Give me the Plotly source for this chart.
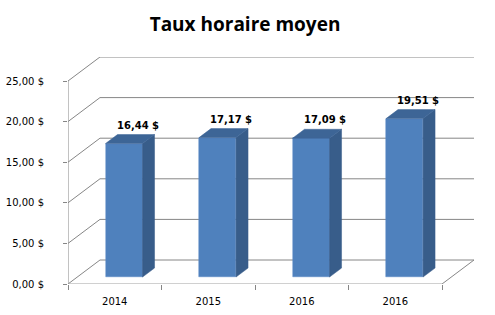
import plotly.graph_objects as go

# ---- data ----
categories = ["2014", "2015", "2016", "2016"]
values = [16.44, 17.17, 17.09, 19.51]
y_ticks = [0, 5, 10, 15, 20, 25]
title_text = "Taux horaire moyen"

# ---- pseudo-3D geometry (in axis units) ----
DX = 0.342   # depth shift along x (category units)
DY = 2.956   # depth shift along y (value units)
F0, F1 = 0.29, 0.665   # bar front/back depth fractions
BW = 0.396   # bar width
YMAX = 25

FRONT = "#4F81BD"
SIDE = "#385D8A"
TOP = "#3D6596"
GRID = "#868686"

def fmt(v):
    return f"{v:.2f}".replace(".", ",") + " $"

fig = go.Figure()
shapes = []

# walls / gridlines
for v in y_ticks:
    shapes.append(dict(type="line", x0=0, y0=v, x1=DX, y1=v + DY,
                       line=dict(color=GRID, width=1), layer="below"))
    shapes.append(dict(type="line", x0=DX, y0=v + DY, x1=len(values) + DX, y1=v + DY,
                       line=dict(color=GRID, width=1), layer="below"))
# floor right edge
shapes.append(dict(type="line", x0=len(values), y0=0, x1=len(values) + DX, y1=DY,
                   line=dict(color=GRID, width=1), layer="below"))
# front axes
shapes.append(dict(type="line", x0=0, y0=0, x1=0, y1=YMAX,
                   line=dict(color=GRID, width=1), layer="below"))
shapes.append(dict(type="line", x0=0, y0=0, x1=len(values), y1=0,
                   line=dict(color="#A0A0A0", width=1), layer="below"))

dd = F1 - F0
ddx, ddy = dd * DX, dd * DY
xs_front = [i + 0.5 + F0 * DX for i in range(len(values))]
base0 = F0 * DY

# front faces
fig.add_trace(go.Bar(x=xs_front, y=values, base=[base0] * len(values), width=BW,
                     marker=dict(color=FRONT, line=dict(color="#5A8AC6", width=0.5)),
                     hoverinfo="skip", showlegend=False))

annotations = []
for i, v in enumerate(values):
    xl = xs_front[i] - BW / 2
    xr = xs_front[i] + BW / 2
    top = v + base0
    # side face
    fig.add_trace(go.Scatter(
        x=[xr, xr + ddx, xr + ddx, xr, xr],
        y=[base0, base0 + ddy, top + ddy, top, base0],
        fill="toself", fillcolor=SIDE, mode="lines",
        line=dict(color=SIDE, width=0.5), hoverinfo="skip", showlegend=False))
    # top face
    fig.add_trace(go.Scatter(
        x=[xl, xr, xr + ddx, xl + ddx, xl],
        y=[top, top, top + ddy, top + ddy, top],
        fill="toself", fillcolor=TOP, mode="lines",
        line=dict(color=TOP, width=0.5), hoverinfo="skip", showlegend=False))
    annotations.append(dict(
        x=xs_front[i] + ddx + 0.02, y=top + ddy, text=fmt(v), showarrow=False,
        yanchor="bottom", yshift=2,
        font=dict(family="DejaVu Sans", size=10, color="#000000", weight="bold")))

fig.update_layout(
    width=495, height=315,
    margin=dict(l=68, r=21, t=57, b=31),
    paper_bgcolor="white", plot_bgcolor="white",
    title=dict(text=title_text, x=0.495, xref="container", xanchor="center",
               y=1 - 24 / 315, yref="container", yanchor="middle",
               font=dict(family="Open Sans", size=19, color="#000000", weight="bold")),
    shapes=shapes, annotations=annotations,
    bargap=0,
)
fig.update_xaxes(range=[0, len(values) + DX], showgrid=False, zeroline=False, showline=False,
                 automargin=False,
                 tickmode="array", tickvals=[i + 0.5 for i in range(len(values))],
                 ticktext=categories, ticks="", ticklabelstandoff=10,
                 tickfont=dict(family="DejaVu Sans", size=10, color="#000000"),
                 minor=dict(tickmode="linear", tick0=0, dtick=1, ticks="outside",
                            ticklen=5, tickcolor=GRID, showgrid=False),
                 fixedrange=True)
fig.update_yaxes(range=[0, YMAX + DY], showgrid=False, zeroline=False, showline=False,
                 automargin=False,
                 tickmode="array", tickvals=y_ticks, ticktext=[fmt(v) for v in y_ticks],
                 ticks="outside", ticklen=4, tickcolor=GRID, ticklabelstandoff=17,
                 tickfont=dict(family="DejaVu Sans", size=10, color="#000000"),
                 fixedrange=True)

fig.write_html("out.html")
